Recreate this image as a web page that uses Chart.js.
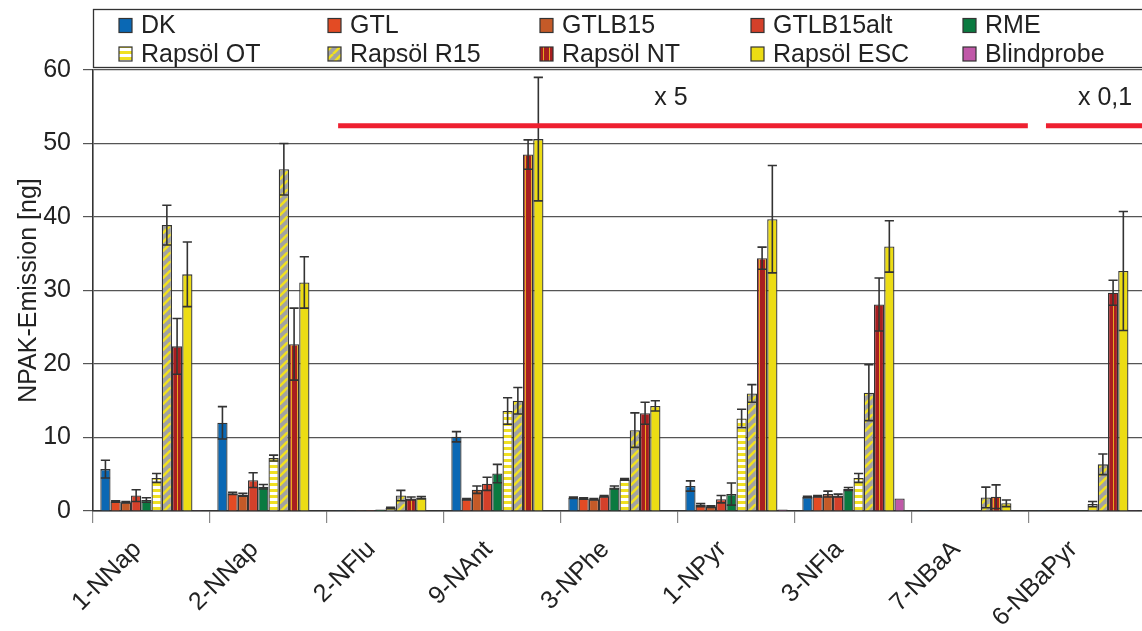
<!DOCTYPE html>
<html><head><meta charset="utf-8">
<script src="https://cdn.jsdelivr.net/npm/chart.js@4.4.0/dist/chart.umd.min.js"></script>
<style>html,body{margin:0;padding:0;background:#fff;overflow:hidden}
#wrap{position:relative;width:1150px;height:631px}</style>
</head><body><div id="wrap"><canvas id="c" width="1150" height="631"></canvas></div>
<script>
const categories = ['1-NNap','2-NNap','2-NFlu','9-NAnt','3-NPhe','1-NPyr','3-NFla','7-NBaA','6-NBaPyr'];
const seriesNames = ['DK','GTL','GTLB15','GTLB15alt','RME','Rapsöl OT','Rapsöl R15','Rapsöl NT','Rapsöl ESC','Blindprobe'];
const yTicks = [0,10,20,30,40,50,60];

const dk        = [5.7, 12.0, 0.02, 10.1, 1.8, 3.4, 1.9, 0.02, 0.02];
const dkErr     = [1.2, 2.2, 0, 0.7, 0.1, 0.7, 0.1, 0, 0];
const gtl       = [1.3, 2.4, 0.05, 1.6, 1.7, 0.8, 2.0, 0.03, 0.05];
const gtlErr    = [0.1, 0.15, 0, 0.1, 0.1, 0.2, 0.1, 0, 0];
const gtlb15    = [1.2, 2.2, 0.1, 2.9, 1.6, 0.6, 2.3, 0.03, 0.05];
const gtlb15Err = [0.1, 0.2, 0, 0.5, 0.1, 0.1, 0.4, 0, 0];
const gtlb15alt = [2.1, 4.2, 0.15, 3.7, 2.0, 1.6, 2.1, 0.03, 0.05];
const gtlb15altErr = [0.8, 1.0, 0, 0.9, 0.1, 0.5, 0.2, 0, 0];
const rme       = [1.5, 3.3, 0.2, 5.1, 3.2, 2.3, 3.0, 0.03, 0.1];
const rmeErr    = [0.3, 0.3, 0, 1.25, 0.2, 1.5, 0.2, 0, 0];
const rapsOT    = [4.5, 7.2, 0.4, 13.6, 4.3, 12.6, 4.5, 0.05, 0.95];
const rapsOTErr = [0.6, 0.4, 0.1, 1.8, 0.1, 1.25, 0.6, 0, 0.35];
const rapsR15   = [38.9, 46.5, 2.1, 15.0, 11.0, 16.0, 16.1, 1.85, 6.35];
const rapsR15Err= [2.7, 3.5, 0.7, 1.8, 2.35, 1.2, 3.8, 1.4, 1.4];
const rapsNT    = [22.4, 22.7, 1.7, 48.5, 13.3, 34.4, 28.1, 1.95, 29.7];
const rapsNTErr = [3.8, 4.9, 0.2, 2.0, 1.5, 1.5, 3.6, 1.6, 1.7];
const rapsESC   = [32.2, 31.1, 1.8, 50.6, 14.3, 39.7, 36.0, 1.05, 32.65];
const rapsESCErr= [4.4, 3.5, 0.15, 8.4, 0.7, 7.3, 3.5, 0.45, 8.1];
const blind     = [0.1, 0.05, 0.05, 0.05, 0.05, 0.2, 1.7, 0.05, 0.1];

const FONT = 'Liberation Sans';

function makePattern(w, h, draw){
  const c = document.createElement('canvas'); c.width = w; c.height = h;
  const g = c.getContext('2d'); draw(g, w, h);
  return document.getElementById('c').getContext('2d').createPattern(c, 'repeat');
}
const patOT = makePattern(4, 6, (g,w,h)=>{ g.fillStyle='#ffffff'; g.fillRect(0,0,w,h); g.fillStyle='#f0e020'; g.fillRect(0,3,w,3); });
const patR15 = makePattern(9, 9, (g,w,h)=>{ g.fillStyle='#a2a2a2'; g.fillRect(0,0,w,h);
  g.strokeStyle='#f0e020'; g.lineWidth=2.6;
  for (const o of [-9,0,9]) { g.beginPath(); g.moveTo(o, h); g.lineTo(o+w, 0); g.stroke(); } });
const patNT = makePattern(6, 2, (g,w,h)=>{ g.fillStyle='#a81e20'; g.fillRect(0,0,w,h); g.fillStyle='#e8a820'; g.fillRect(3,0,1,h); });

const seriesValues = [dk, gtl, gtlb15, gtlb15alt, rme, rapsOT, rapsR15, rapsNT, rapsESC, blind];
const seriesErrors = [dkErr, gtlErr, gtlb15Err, gtlb15altErr, rmeErr, rapsOTErr, rapsR15Err, rapsNTErr, rapsESCErr, null];
const seriesFills = ['#0a68b4', '#e34b24', '#c45a28', '#d4402a', '#0a7a40', patOT, patR15, patNT, '#ecdc14', '#c058a8'];

const datasets = seriesNames.map((n,i)=>({
  label: n, data: seriesValues[i], errors: seriesErrors[i],
  backgroundColor: seriesFills[i], borderColor: '#333', borderWidth: 1.3,
  categoryPercentage: 0.875, barPercentage: 1.0
}));

const errorBars = {
  id: 'errorBars',
  afterDatasetsDraw(chart){
    const ctx = chart.ctx, y = chart.scales.y;
    ctx.save(); ctx.strokeStyle = '#333'; ctx.lineWidth = 1.6;
    chart.data.datasets.forEach((ds, i)=>{
      if (!ds.errors) return;
      chart.getDatasetMeta(i).data.forEach((bar, j)=>{
        const e = ds.errors[j]; if (!e) return;
        const v = ds.data[j];
        const yt = y.getPixelForValue(v + e), yb = y.getPixelForValue(Math.max(0, v - e));
        const hw = bar.width * 0.45;
        ctx.beginPath();
        ctx.moveTo(bar.x, yt); ctx.lineTo(bar.x, yb);
        ctx.moveTo(bar.x - hw, yt); ctx.lineTo(bar.x + hw, yt);
        ctx.moveTo(bar.x - hw, yb); ctx.lineTo(bar.x + hw, yb);
        ctx.stroke();
      });
    });
    ctx.restore();
  }
};

const annotations = {
  id: 'annotations',
  afterDraw(chart){
    const ctx = chart.ctx, x = chart.scales.x, y = chart.scales.y;
    ctx.save();
    ctx.strokeStyle = '#ee2030'; ctx.lineWidth = 5;
    const ly = y.getPixelForValue(52.4);
    ctx.beginPath(); ctx.moveTo(x.getPixelForValue(1.595), ly); ctx.lineTo(x.getPixelForValue(7.49), ly); ctx.stroke();
    ctx.beginPath(); ctx.moveTo(x.getPixelForValue(7.645), ly); ctx.lineTo(x.right + 10, ly); ctx.stroke();
    ctx.fillStyle = '#222'; ctx.font = '25px "' + FONT + '"'; ctx.textAlign = 'center'; ctx.textBaseline = 'middle';
    const ty = y.getPixelForValue(56.2);
    ctx.fillText('x 5', x.getPixelForValue(4.44), ty);
    ctx.fillText('x 0,1', x.getPixelForValue(8.15), ty);
    ctx.restore();

    // legend
    ctx.save();
    ctx.strokeStyle = '#333'; ctx.lineWidth = 1.3;
    ctx.fillStyle = '#fff';
    ctx.fillRect(93.5, 9.5, 1100, 58);
    ctx.strokeRect(93.5, 9.5, 1100, 58);
    const colX = [141, 350, 562, 773, 985];
    const rowY = [25.5, 54];
    ctx.font = '25px "' + FONT + '"'; ctx.textAlign = 'left'; ctx.textBaseline = 'middle';
    chart.data.datasets.forEach((ds, i)=>{
      const cx = colX[i % 5], cy = rowY[Math.floor(i / 5)];
      ctx.fillStyle = ds.backgroundColor;
      ctx.fillRect(cx - 22, cy - 7, 13, 14);
      ctx.strokeStyle = '#333'; ctx.lineWidth = 1.2;
      ctx.strokeRect(cx - 22, cy - 7, 13, 14);
      ctx.fillStyle = '#222';
      ctx.fillText(ds.label, cx, cy + 1);
    });
    ctx.restore();
  }
};

new Chart(document.getElementById('c'), {
  type: 'bar',
  data: { labels: categories, datasets },
  options: {
    responsive: false, animation: false, devicePixelRatio: 1,
    layout: { padding: { top: 70, right: 4, left: 0, bottom: 0 } },
    plugins: { legend: { display: false }, tooltip: { enabled: false } },
    scales: {
      x: {
        grid: { display: true, drawOnChartArea: false, offset: true, tickLength: 12, color: '#888', lineWidth: 1.2 },
        border: { display: true, color: '#333', width: 1.6 },
        ticks: { font: { family: FONT, size: 25 }, color: '#222', minRotation: 45, maxRotation: 45, labelOffset: -14, padding: 12, autoSkip: false },
        afterFit(s){ s.height = 120; }
      },
      y: {
        min: 0, max: 60,
        afterBuildTicks(s){ s.ticks = yTicks.map(v=>({ value: v })); },
        grid: { color: '#555', lineWidth: 1.2, tickLength: 10 },
        border: { display: true, color: '#333', width: 1.6 },
        ticks: { font: { family: FONT, size: 25 }, color: '#222', padding: 12 },
        title: { display: true, text: 'NPAK-Emission [ng]', font: { family: FONT, size: 25 }, color: '#222', padding: { top: 14, bottom: 0 } },
        afterFit(s){ s.width = 93; }
      }
    }
  },
  plugins: [errorBars, annotations]
});
</script></body></html>
